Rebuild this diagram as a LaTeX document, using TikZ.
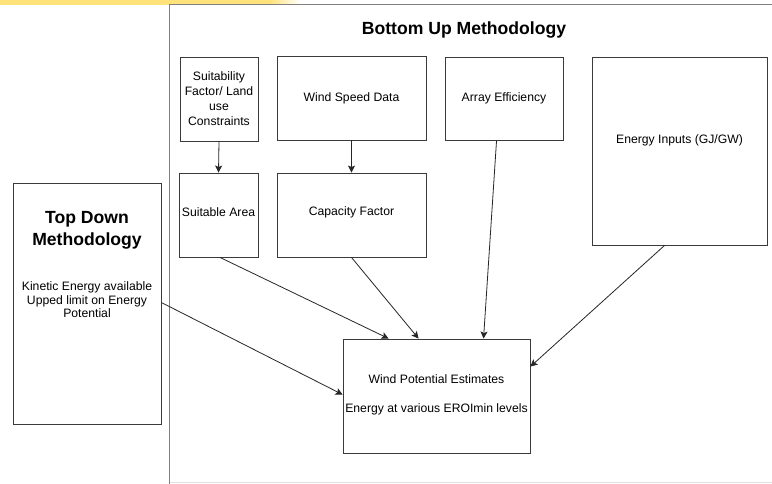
\documentclass[tikz,border=0pt]{standalone}
\usepackage{fontspec}
\setmainfont{Liberation Sans}
\usetikzlibrary{arrows.meta,calc}
\definecolor{boxline}{HTML}{3A3A3A}
\definecolor{frameline}{HTML}{808080}
\definecolor{hl}{HTML}{FFE37A}
\tikzset{
  box/.style={draw=boxline, line width=0.9pt, fill=white, inner sep=0pt, align=center, font=\fontsize{12.2}{15}\selectfont},
  lbl/.style={inner sep=0pt, align=center, font=\fontsize{12.2}{13.5}\selectfont},
  ttl/.style={inner sep=0pt, align=center, font=\bfseries\fontsize{17.6}{22}\selectfont},
  arr/.style={draw=black!85, line width=0.8pt, -{Stealth[length=7pt,width=7pt,inset=1.5pt]}}
}
\begin{document}
\begin{tikzpicture}[x=1pt,y=-1pt]
\useasboundingbox (0,0) rectangle (772,484);
\fill[white] (0,0) rectangle (772,484);
% highlighted strip at top
\fill[hl] (0,0) rectangle (270,5);
\shade[left color=hl, right color=white] (270,0) rectangle (300,5);
% bottom-up frame
\draw[frameline, line width=1pt] (776,5) -- (169.5,5) -- (169.5,488);
\draw[black!12, line width=1pt] (169.5,482.5) -- (776,482.5);
\node[ttl] (butitle) at (464,30) {Bottom Up Methodology};
% boxes
\node[box, minimum width=78pt, minimum height=84pt] (suit) at (219,99) {Suitability\\Factor/ Land\\use\\Constraints};
\node[box, minimum width=149pt, minimum height=84pt] (ws) at (351.5,98) {Wind Speed Data};
\node[box, minimum width=118pt, minimum height=83pt] (ae) at (504,98.5) {Array Efficiency};
\node[box, minimum width=175pt, minimum height=188pt] (ei) at (679.5,151) {};
\node[lbl] (eitext) at (679.5,140) {Energy Inputs (GJ/GW)};
\node[box, minimum width=79pt, minimum height=84pt] (sa) at (218.5,215) {};
\node[lbl] (satext) at (218.5,212) {Suitable Area};
\node[box, minimum width=149pt, minimum height=84pt] (cf) at (351.5,215) {};
\node[lbl] (cftext) at (351.5,212) {Capacity Factor};
\node[box, minimum width=187pt, minimum height=114pt] (wp) at (436.5,396) {};
\node[lbl] (wp1) at (436.5,379) {Wind Potential Estimates};
\node[lbl] (wp2) at (436.5,409) {Energy at various EROImin levels};
% top down box
\node[box, minimum width=148pt, minimum height=241pt] (td) at (87,303.5) {};
\node[ttl] (tdtitle) at (87,230) {Top Down\\Methodology};
\node[lbl] (tdtext) at (87,300) {Kinetic Energy available\\Upped limit on Energy\\Potential};
% arrows
\draw[arr] (suit.south) -- (sa.north);
\draw[arr] (ws.south) -- (cf.north);
\draw[arr] ($(sa.south)+(1.5,0)$) -- ($(wp.north west)+(46,0)$);
\draw[arr] (cf.south) -- ($(wp.north west)+(76,0)$);
\draw[arr] ($(ae.south west)+(52,0)$) -- ($(wp.north west)+(141,0)$);
\draw[arr] ($(ei.south west)+(73,0)$) -- ($(wp.north east)+(0,28)$);
\draw[arr] ($(td.north east)+(0,120)$) -- ($(wp.north west)+(0,56)$);
\end{tikzpicture}
\end{document}
